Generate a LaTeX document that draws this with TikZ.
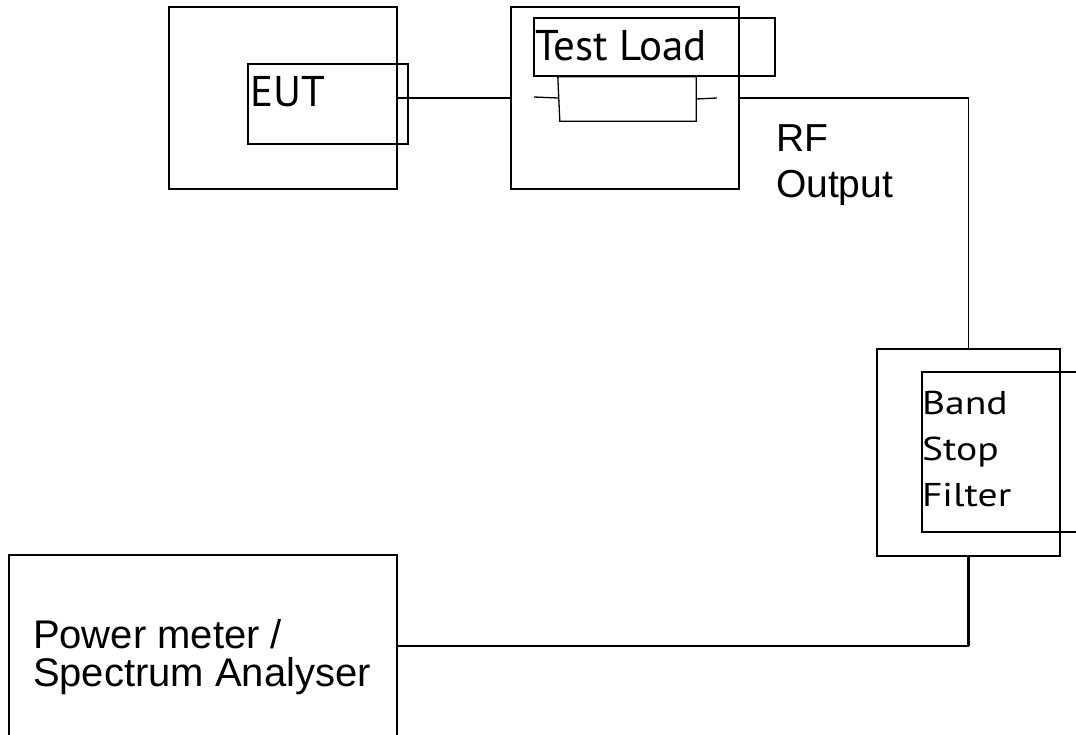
\documentclass[tikz,border=0pt]{standalone}
\usepackage{fontspec}
\newfontfamily\arialf{Liberation Sans}
\newfontfamily\ptsf{PT Sans}
\newcommand{\widetxt}[1]{\scalebox{1.2}[1]{#1}}
\begin{document}
\begin{tikzpicture}[x=1pt,y=-1pt,
  box/.style={draw, line width=1.3pt, inner sep=0pt, outer sep=0pt},
  wire/.style={line width=1.3pt},
  heavywire/.style={line width=2.6pt},
  lbl/.style={inner sep=0pt, outer sep=0pt, anchor=base west},
  bigpt/.style={lbl, font=\ptsf\fontsize{43}{46}\selectfont},
  smallpt/.style={lbl, font=\ptsf\fontsize{33}{46}\selectfont},
  ar/.style={lbl, font=\arialf\fontsize{39}{46}\selectfont}]
\useasboundingbox (0,0) rectangle (1076,735);
% EUT
\node[box, minimum width=228pt, minimum height=182pt] (euto) at (283,98) {};
\node[box, minimum width=160pt, minimum height=80pt] (eutin) at (328,104) {};
\node[bigpt] (eutl) at (250,107) {EUT};
% Test load
\node[box, minimum width=228pt, minimum height=182pt] (tlo) at (625,98) {};
\node[box, minimum width=241pt, minimum height=58pt] (tlbox) at (654.5,47) {};
\node[bigpt] (tll) at (535,61) {Test Load};
\node[inner sep=0pt, minimum width=138pt, minimum height=44pt] (res) at (627,99) {};
\draw[wire] (res.north west) -- (res.north east) -- (res.south east) -- ([xshift=2pt]res.south west) -- cycle;
\coordinate (leadl) at (534,97);
\coordinate (leadr) at (717,98);
\draw[wire] (leadl) -- ([yshift=1pt]res.west);
\draw[wire] (res.east) -- (leadr);
% RF output label
\node[ar] (rf1) at (776,152) {RF};
\node[ar] (rf2) at (776,198) {Output};
% Band stop filter
\node[box, minimum width=183pt, minimum height=207pt] (bsfo) at (968.5,452.5) {};
\node[box, minimum width=168pt, minimum height=160pt] (bsfin) at (1006,452) {};
\node[smallpt] (bsf1) at (922,414) {\widetxt{Band}};
\node[smallpt] (bsf2) at (922,460) {\widetxt{Stop}};
\node[smallpt] (bsf3) at (922,506) {\widetxt{Filter}};
% Power meter
\node[box, minimum width=388pt, minimum height=182pt] (pm) at (203,646) {};
\node[ar, font=\arialf\fontsize{40}{39}\selectfont] (pm1) at (33,648) {Power meter /};
\node[ar, font=\arialf\fontsize{40}{39}\selectfont] (pm2) at (33,686) {Spectrum Analyser};
% connections
\draw[wire] (euto.east) -- (tlo.west);
\draw[wire] (tlo.east) -| (bsfo.north);
\coordinate (corner) at (bsfo.south |- pm.east);
\draw[heavywire] (bsfo.south) -- (corner);
\draw[wire] (corner) -- (pm.east);
\end{tikzpicture}
\end{document}
